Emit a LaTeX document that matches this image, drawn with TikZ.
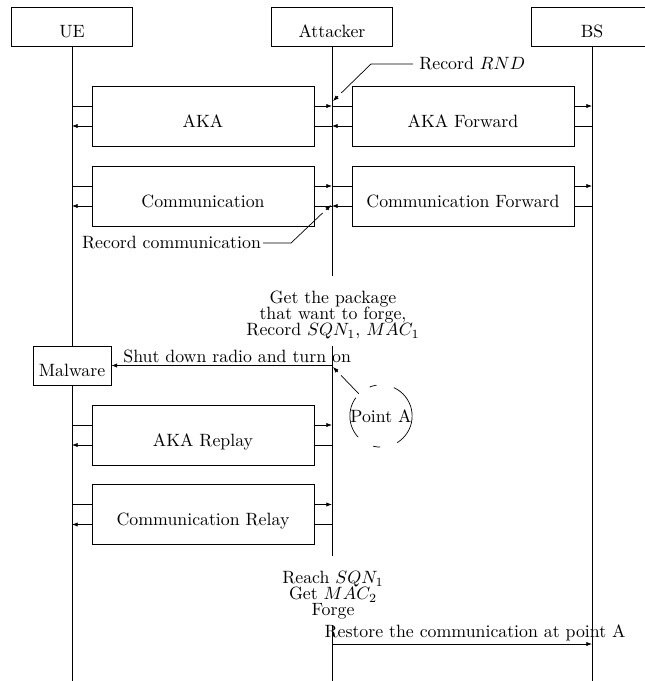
\documentclass[tikz,border=0pt]{standalone}
\usetikzlibrary{arrows.meta, backgrounds, calc}

\begin{document}
\begin{tikzpicture}[
    x=0.5618pt, y=-0.5618pt,
    actor/.style={rectangle, draw=black, fill=white, minimum height=22pt, text height=12.5pt, text depth=0pt},
    block/.style={rectangle, draw=black, fill=white, minimum width=124.7pt, minimum height=33.7pt, text height=12.5pt, text depth=0pt},
    msg/.style={-{Latex[length=3.2pt, width=2.4pt]}},
    note/.style={shorten >=6.5pt},
    remark/.style={align=center}
]
    \useasboundingbox (0,0) rectangle (645,681);

    % Actors
    \node[actor, minimum width=68pt] (ue) at (72, 26.5) {UE};
    \node[actor, minimum width=68pt] (att) at (332, 26.5) {Attacker};
    \node[actor, minimum width=68pt] (bs) at (592, 26.5) {BS};
    \coordinate (bottom) at (0, 681);

    % Exchanges
    \node[block] (aka) at (203, 116) {AKA};
    \node[block] (aka_fwd) at (463, 116) {AKA Forward};
    \node[block] (comm) at (203, 196) {Communication};
    \node[block] (comm_fwd) at (463, 196) {Communication Forward};
    \node[block] (aka_replay) at (203, 435) {AKA Replay};
    \node[block] (comm_relay) at (203, 514.5) {Communication Relay};

    \node[actor] (malware) at (72, 365.5) {Malware};
    \node[circle, draw, dash pattern=on 24pt off 10pt on 4pt off 10pt, dash phase=4pt, inner sep=0pt] (point_a) at (381, 416) {Point A};

    % Attacker steps
    \node[remark] (get_pkg) at (333, 315) {Get the package\\[-3pt]that want to forge,\\[-3pt]Record $SQN_1$, $MAC_1$};
    \node[remark] (forge) at (333, 595) {Reach $SQN_1$\\[-3pt]Get $MAC_2$\\[-3pt]Forge};

    % gaps in the attacker line
    \coordinate (att_a) at (332, 276);
    \coordinate (att_b) at (332, 346);
    \coordinate (att_c) at (332, 556);
    \coordinate (att_d) at (332, 625);

    \begin{scope}[on background layer]
        \draw (ue.south) -- (ue |- bottom);
        \draw (bs.south) -- (bs |- bottom);
        \draw (att.south) -- (att_a);
        \draw (att_b) -- (att_c);
        \draw (att_d) -- (att |- bottom);

        \draw[msg] ($(aka -| ue)+(0,-10)$) -- ($(aka -| att)+(0,-10)$);
        \draw[msg] ($(aka -| att)+(0,10)$) -- ($(aka -| ue)+(0,10)$);
        \draw[msg] ($(aka_fwd -| att)+(0,-10)$) -- ($(aka_fwd -| bs)+(0,-10)$);
        \draw[msg] ($(aka_fwd -| bs)+(0,10)$) -- ($(aka_fwd -| att)+(0,10)$);

        \draw[msg] ($(comm -| ue)+(0,-10)$) -- ($(comm -| att)+(0,-10)$);
        \draw[msg] ($(comm -| att)+(0,10)$) -- ($(comm -| ue)+(0,10)$);
        \draw[msg] ($(comm_fwd -| att)+(0,-10)$) -- ($(comm_fwd -| bs)+(0,-10)$);
        \draw[msg] ($(comm_fwd -| bs)+(0,10)$) -- ($(comm_fwd -| att)+(0,10)$);

        \draw[msg] ($(aka_replay -| ue)+(0,-10)$) -- ($(aka_replay -| att)+(0,-10)$);
        \draw[msg] ($(aka_replay -| att)+(0,10)$) -- ($(aka_replay -| ue)+(0,10)$);
        \draw[msg] ($(comm_relay -| ue)+(0,-10)$) -- ($(comm_relay -| att)+(0,-10)$);
        \draw[msg] ($(comm_relay -| att)+(0,10)$) -- ($(comm_relay -| ue)+(0,10)$);
    \end{scope}

    % Notes
    \node[anchor=west] (rec_rnd) at (413, 64) {Record $RND$};
    \coordinate (rnd_tip) at (333, 101);
    \draw[note] (rec_rnd.west) -- ++(-42, 0) coordinate (rnd_bend) -- (rnd_tip);
    \draw[msg] ($(rnd_tip)!4pt!(rnd_bend)$) -- (rnd_tip);

    \node[inner sep=1pt] (rec_comm) at (171.5, 243) {Record communication};
    \coordinate (comm_tip) at (331, 205);
    \draw[note] (rec_comm.east) -- ++(28, 0) coordinate (comm_bend) -- (comm_tip);
    \draw[msg] ($(comm_tip)!4pt!(comm_bend)$) -- (comm_tip);

    \coordinate (shut_tip) at (333, 367);
    \draw[note] (point_a.north west) -- (shut_tip);
    \draw[msg] ($(shut_tip)!4pt!(point_a.north west)$) -- (shut_tip);

    % Attacker actions
    \draw[msg] (malware.east -| att) -- node[above, pos=0.43, inner sep=1.5pt] (shut_lbl) {Shut down radio and turn on} (malware.east);

    \coordinate (restore) at (332, 644);
    \draw[msg] (restore) -- node[above, pos=0.55, inner sep=1.5pt] (restore_lbl) {Restore the communication at point A} (restore -| bs);

\end{tikzpicture}
\end{document}
